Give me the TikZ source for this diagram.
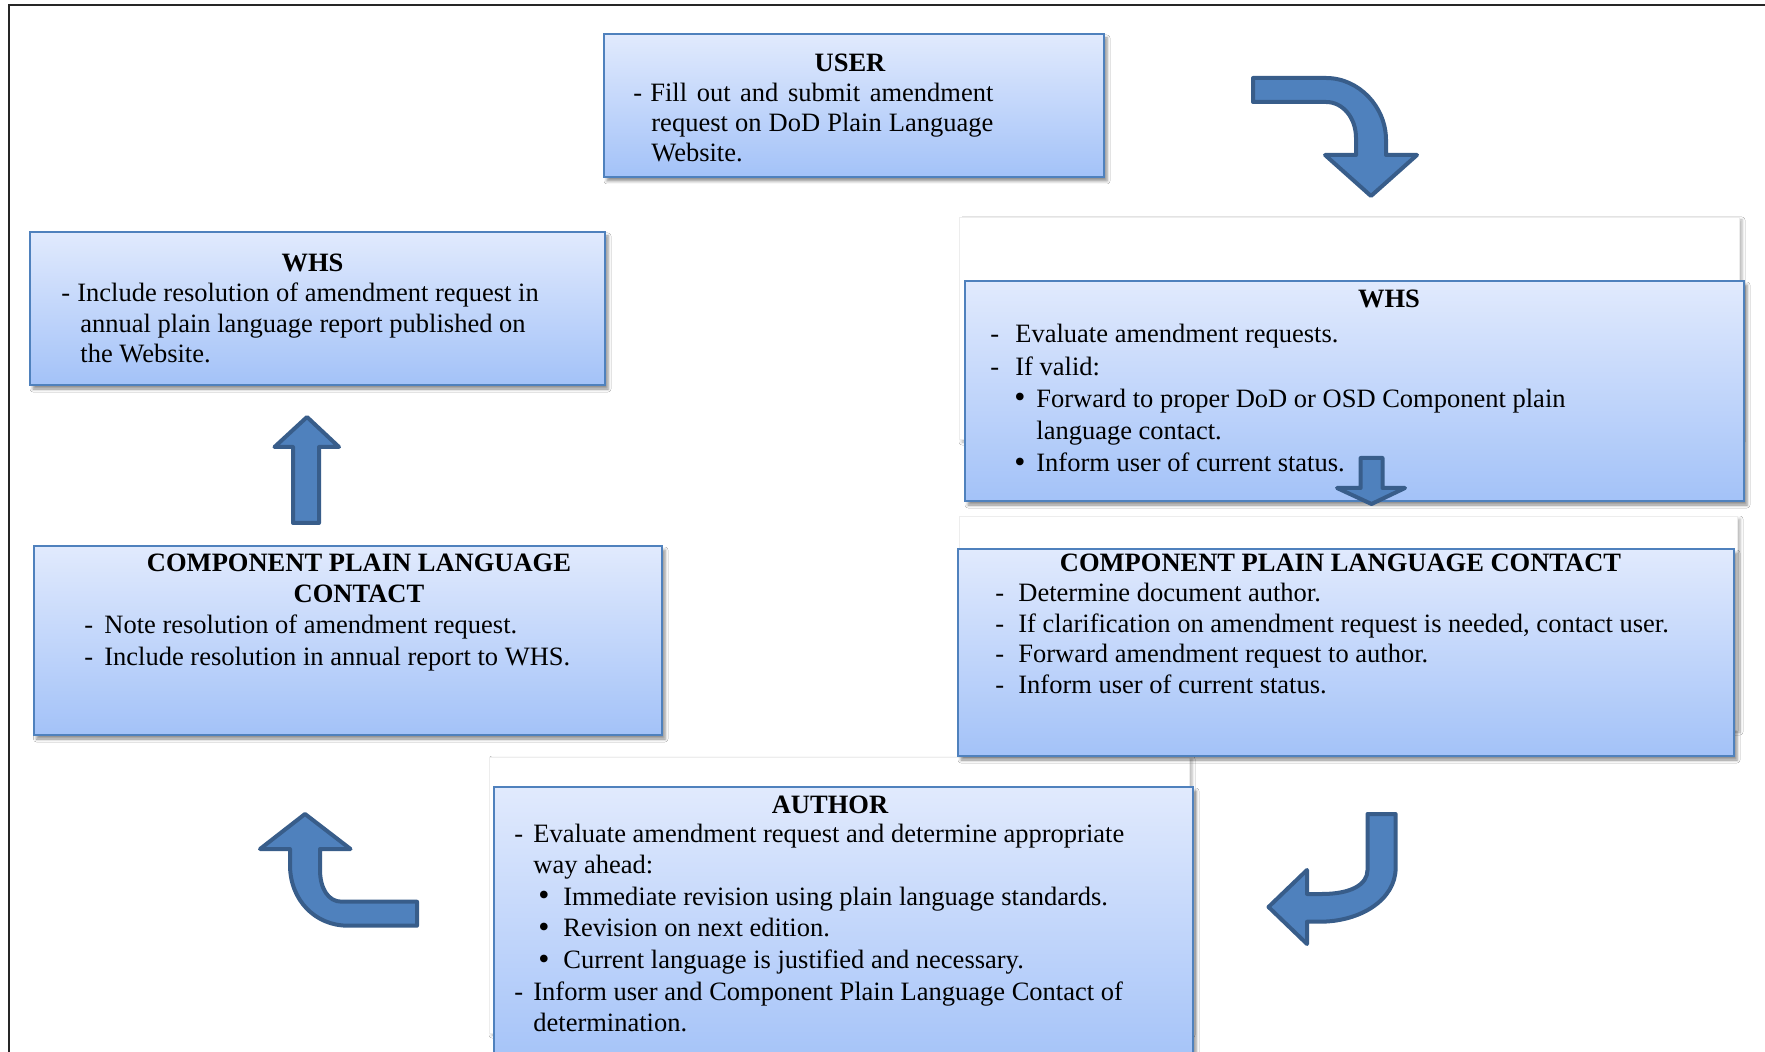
\documentclass[tikz,border=0pt]{standalone}
\usepackage{fontspec}
\setmainfont{Liberation Serif}
\usetikzlibrary{shadows.blur}
\definecolor{boxtop}{RGB}{225,234,253}
\definecolor{boxbot}{RGB}{163,194,248}
\definecolor{boxline}{RGB}{79,129,189}
\definecolor{arrfill}{RGB}{79,129,189}
\definecolor{arrline}{RGB}{56,93,138}
\newcommand\fs{\fontsize{13.25}{15.25}\selectfont}
\newcommand\itm[3]{\makebox[#1][l]{#2}#3}
\newcommand\bul{\raisebox{-0.3pt}{\scalebox{1.2}{\textbullet}}}
\newcommand\bodytext[2]{\parbox[t]{420pt}{\raggedright\fontsize{13.25}{#1}\selectfont #2}}
\begin{document}
\begin{tikzpicture}[x=0.5pt,y=-0.5pt,
  bluebox/.style={draw=boxline, line width=1pt, top color=boxtop, bottom color=boxbot,
    inner sep=0pt, outer sep=0pt,
    blur shadow={shadow xshift=1.5pt, shadow yshift=-2pt, shadow blur radius=1.5pt, shadow opacity=45}},
  whitebox/.style={fill=white, draw=black!7, line width=0.5pt, inner sep=0pt, outer sep=0pt,
    blur shadow={shadow xshift=1.5pt, shadow yshift=-1pt, shadow blur radius=1.5pt, shadow opacity=30}},
  ttl/.style={anchor=base, inner sep=0pt, font=\fs\bfseries},
  body/.style={anchor=base west, inner sep=0pt},
  blockarrow/.style={fill=arrfill, draw=arrline, line width=2pt, line join=round}]
\useasboundingbox (0,0) rectangle (1765,1052);
\clip (0,0) rectangle (1765,1052);
\fill[white] (0,0) rectangle (1765,1052);
% frame
\draw[black!85, line width=1pt] (8.5,1060) -- (8.5,5) -- (1770,5);

% white back boxes
\node[whitebox, minimum width=390pt, minimum height=111pt] (whsRback) at (1349,329) {};
\node[whitebox, minimum width=389pt, minimum height=106.5pt] (cplcRback) at (1348,623.5) {};
\node[whitebox, minimum width=350pt, minimum height=138pt] (authback) at (839,895) {};

% blue boxes
\node[bluebox, minimum width=250pt, minimum height=71.5pt] (user) at (854,105.5) {};
\node[bluebox, minimum width=287.5pt, minimum height=76.5pt] (whsL) at (317.5,308.5) {};
\node[bluebox, minimum width=314.25pt, minimum height=94.5pt] (cplcL) at (347.75,640.5) {};
\node[bluebox, minimum width=389.5pt, minimum height=110pt] (whsR) at (1354.5,391) {};
\node[bluebox, minimum width=388pt, minimum height=103.5pt] (cplcR) at (1346,652.5) {};
\node[bluebox, minimum width=349.5pt, minimum height=141.5pt] (auth) at (843.5,928.5) {};

% USER
\node[ttl] (userT) at (850,72) {USER};
\node[body] (userB) at (633,102) {\bodytext{15pt}{%
\itm{8.5pt}{-}{\makebox[171.5pt][s]{Fill out and submit amendment}}\\
\hspace*{9pt}\makebox[171pt][s]{request on DoD Plain Language}\\
\hspace*{9pt}Website.}};

% WHS left
\node[ttl] (whsLT) at (312.5,272) {WHS};
\node[body] (whsLB) at (61,302) {\bodytext{15.25pt}{%
\itm{8pt}{-}{Include resolution of amendment request in}\\
\hspace*{9.5pt}annual plain language report published on\\
\hspace*{9.5pt}the Website.}};

% CPLC left
\node[ttl] (cplcLT) at (359,572) {\parbox[t]{320pt}{\centering\fontsize{13.25}{15.5}\selectfont\bfseries COMPONENT PLAIN LANGUAGE\\CONTACT}};
\node[body] (cplcLB) at (84,633) {\bodytext{16pt}{%
\itm{10pt}{-}{Note resolution of amendment request.}\\
\itm{10pt}{-}{Include resolution in annual report to WHS.}}};

% WHS right
\node[ttl] (whsRT) at (1389,308) {WHS};
\node[body] (whsRB) at (990,343) {\bodytext{16.1pt}{%
\itm{12.5pt}{-}{Evaluate amendment requests.}\\
\itm{12.5pt}{-}{If valid:}\\
\hspace*{12pt}\itm{11pt}{\bul}{Forward to proper DoD or OSD Component plain}\\
\hspace*{23pt}language contact.\\
\hspace*{12pt}\itm{11pt}{\bul}{Inform user of current status.}}};

% CPLC right
\node[ttl] (cplcRT) at (1340.5,572) {COMPONENT PLAIN LANGUAGE CONTACT};
\node[body] (cplcRB) at (995,602) {\bodytext{15.17pt}{%
\itm{11.5pt}{-}{Determine document author.}\\
\itm{11.5pt}{-}{If clarification on amendment request is needed, contact user.}\\
\itm{11.5pt}{-}{Forward amendment request to author.}\\
\itm{11.5pt}{-}{Inform user of current status.}}};

% AUTHOR
\node[ttl] (authT) at (830,813) {AUTHOR};
\node[body] (authB) at (514,842) {\bodytext{15.83pt}{%
\itm{9.5pt}{-}{Evaluate amendment request and determine appropriate}\\
\hspace*{9.5pt}way ahead:\\
\hspace*{12pt}\itm{12.5pt}{\bul}{Immediate revision using plain language standards.}\\
\hspace*{12pt}\itm{12.5pt}{\bul}{Revision on next edition.}\\
\hspace*{12pt}\itm{12.5pt}{\bul}{Current language is justified and necessary.}\\
\itm{9.5pt}{-}{Inform user and Component Plain Language Contact of}\\
\hspace*{9.5pt}determination.}};

% block arrows
% top right: right then down
\draw[blockarrow] (1253,78) -- (1326,78) .. controls (1359,78) and (1386,107) .. (1386,140)
  -- (1386,155) -- (1417,155) -- (1371,196) -- (1325,155) -- (1356,155) -- (1356,138)
  .. controls (1356,118) and (1343,102) .. (1326,102) -- (1253,102) -- cycle;
% small down arrow
\draw[blockarrow] (1360.6,458) -- (1382.5,458) -- (1382.5,488) -- (1405,488) -- (1371.5,504)
  -- (1337,488) -- (1360.6,488) -- cycle;
% bottom right: down then left
\draw[blockarrow] (1367.5,814) -- (1395.6,814) -- (1395.6,868)
  .. controls (1395.6,900) and (1360,921.7) .. (1320,921.7) -- (1307,921.7) -- (1307,944)
  -- (1268.5,907) -- (1307,870) -- (1307,894) -- (1322,894)
  .. controls (1350,894) and (1367.5,885) .. (1367.5,870) -- cycle;
% bottom left: left then up
\draw[blockarrow] (417,901.7) -- (341.5,901.7) .. controls (328,901.7) and (320,888) .. (320,870)
  -- (320,849) -- (350.5,849) -- (305,814) -- (260,849) -- (290,849) -- (290,865)
  .. controls (290,900) and (315,925.7) .. (348,925.7) -- (417,925.7) -- cycle;
% up arrow
\draw[blockarrow] (293,523) -- (293,447) -- (274.5,447) -- (307,417) -- (339,447) -- (319,447)
  -- (319,523) -- cycle;
\end{tikzpicture}
\end{document}
